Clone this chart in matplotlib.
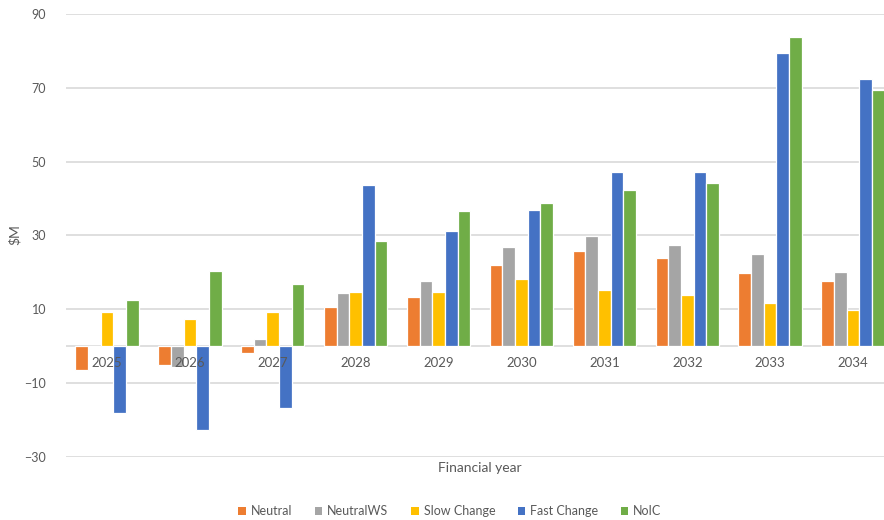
import matplotlib
matplotlib.use("Agg")
import matplotlib.pyplot as plt
import numpy as np

plt.rcParams['font.family'] = ['Lato', 'DejaVu Sans']

years = ['2025', '2026', '2027', '2028', '2029', '2030', '2031', '2032', '2033', '2034']
series_names = ['Neutral', 'NeutralWS', 'Slow Change', 'Fast Change', 'NoIC']
neutral = [-6.5, -5.1, -1.8, 10.5, 13.4, 21.9, 25.8, 23.9, 19.8, 17.6]
neutral_ws = [0.0, -5.8, 1.9, 14.4, 17.6, 26.9, 29.9, 27.4, 24.9, 20.0]
slow_change = [9.3, 7.2, 9.1, 14.7, 14.7, 18.2, 15.1, 13.7, 11.7, 9.9]
fast_change = [-18.2, -22.8, -16.9, 43.6, 31.3, 36.9, 47.3, 47.1, 79.4, 72.3]
noic = [12.5, 20.4, 16.8, 28.4, 36.5, 38.8, 42.2, 44.1, 83.7, 69.5]
y_ticks = [-30, -10, 10, 30, 50, 70, 90]

series = [neutral, neutral_ws, slow_change, fast_change, noic]
colors = ['#ED7D31', '#A5A5A5', '#FFC000', '#4472C4', '#70AD47']
text_color = '#595959'
grid_color = '#D9D9D9'

W, H = 884, 520
fig = plt.figure(figsize=(W / 100, H / 100), dpi=100)
ax = fig.add_axes([65.5 / W, 1 - 456.7 / H, 829 / W, 442.7 / H])

x = np.arange(len(years))
bw = 0.153
for k, (vals, name, col) in enumerate(zip(series, series_names, colors)):
    ax.bar(x + (k - 2) * bw, vals, width=bw, color=col, edgecolor='white',
           linewidth=0.9, label=name, zorder=3)

ax.set_ylim(-30, 90)
ax.set_xlim(-0.5, len(years) - 0.5)
ax.set_yticks(y_ticks)
ax.yaxis.grid(True, color=grid_color, linewidth=1.2, zorder=0)
ax.axhline(0, color=grid_color, linewidth=1.2, zorder=1)
for s in ax.spines.values():
    s.set_visible(False)
# category labels sit just under the zero line, drawn over the bars
ax.spines['bottom'].set_position(('data', 0))
ax.xaxis.set_zorder(5)
ax.set_xticks(x)
ax.set_xticklabels(years)
ax.tick_params(axis='x', length=0, pad=8, labelsize=9.5, labelcolor=text_color)
ax.tick_params(axis='y', length=0, pad=14, labelsize=9, labelcolor=text_color)

fig.text(15 / W, 1 - 235 / H, '$M', rotation=90, ha='center', va='center',
         fontsize=10, color=text_color)
fig.text(480 / W, 1 - 468 / H, 'Financial year', ha='center', va='center',
         fontsize=10, color=text_color)

leg = fig.legend(loc='center', bbox_to_anchor=(450 / W, 1 - 511 / H), ncol=5,
                 frameon=False, fontsize=9, handlelength=0.6, handleheight=0.6,
                 handletextpad=0.4, columnspacing=1.8)
for t in leg.get_texts():
    t.set_color(text_color)
for h in leg.legend_handles:
    h.set_linewidth(0)

fig.savefig('out.png', dpi=100)
